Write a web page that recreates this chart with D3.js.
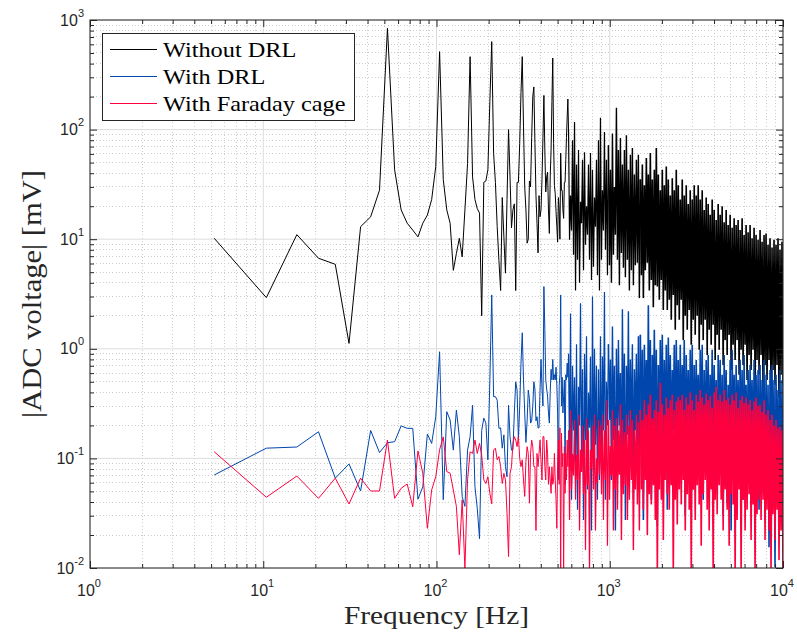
<!DOCTYPE html>
<html>
<head>
<meta charset="utf-8">
<script src="https://cdn.jsdelivr.net/npm/d3@7"></script>
<style>
  body { margin: 0; background: #ffffff; }
  svg { display: block; }
</style>
</head>
<body>
<svg id="chart" width="797" height="637"></svg>
<script>
// FFT bin spacing of the spectra (Hz)
const binWidth = 5.21;

// Amplitude of bins 1..110 (mV)
const lowBlack = [10.2, 2.93, 11, 6.7, 5.9, 1.12, 13, 16, 28, 840,
  43, 18.5, 14, 12.1, 10.5, 14, 16.6, 23, 46, 515,
  35, 18.5, 14, 5.2, 7.4, 10.2, 6.9, 18.5, 49, 463,
  37, 23, 19, 17.3, 2.0, 33, 34, 43, 180, 635,
  61, 33, 13, 6.4, 3.4, 24, 10.5, 4.9, 23, 100,
  37, 12.7, 18.5, 21, 3.4, 33, 33, 75, 218, 463,
  106, 30, 18.5, 9.2, 10, 34, 30, 85, 200, 245,
  75, 25, 14, 7.5, 25, 16, 18.5, 35, 85, 205,
  65, 27, 37, 41, 18.5, 11.3, 37, 65, 180, 450,
  75, 31, 26, 18, 13, 9.4, 24, 18.5, 10, 61,
  28, 28, 18.5, 15.5, 33, 33, 53, 85, 130, 190];

const lowBlue = [0.0706, 0.124, 0.127, 0.175, 0.066, 0.089, 0.0504, 0.18, 0.113, 0.139,
  0.142, 0.198, 0.188, 0.188, 0.0424, 0.055, 0.167, 0.137, 0.24, 0.94,
  0.042, 0.267, 0.224, 0.119, 0.276, 0.158, 0.0447, 0.0365, 0.119, 0.158,
  0.305, 0.055, 0.035, 0.0185, 0.18, 0.233, 0.21, 0.097, 0.52, 3.1,
  0.366, 0.366, 0.34, 0.188, 0.19, 0.124, 0.164, 0.084, 0.068, 0.305,
  0.158, 0.119, 0.12, 0.26, 0.50, 0.42, 0.15, 0.30, 0.74, 1.4,
  0.52, 0.26, 0.14, 0.22, 0.42, 0.35, 0.21, 0.22, 0.30, 0.50,
  0.43, 0.22, 0.24, 0.19, 0.19, 0.43, 0.8, 0.43, 0.30, 3.7,
  1.5, 0.52, 0.43, 0.37, 0.26, 0.21, 0.40, 0.65, 0.52, 0.8,
  0.52, 0.58, 0.52, 0.68, 0.46, 0.26, 0.064, 0.46, 0.58, 3.1,
  0.30, 0.55, 0.26, 0.37, 0.52, 0.058, 0.58, 0.52, 0.74, 0.55];

const lowRed = [0.115, 0.0442, 0.069, 0.0432, 0.066, 0.0384, 0.066, 0.0504, 0.0504, 0.147,
  0.0432, 0.0534, 0.0584, 0.0362, 0.117, 0.073, 0.023, 0.0515, 0.068, 0.12,
  0.157, 0.0758, 0.0733, 0.0515, 0.0365, 0.0132, 0.0418, 0.0098, 0.0636, 0.115,
  0.111, 0.147, 0.111, 0.137, 0.107, 0.0636, 0.059, 0.068, 0.048, 0.0385,
  0.119, 0.124, 0.097, 0.104, 0.084, 0.059, 0.073, 0.0636, 0.0316, 0.0127,
  0.073, 0.084, 0.137, 0.158, 0.147, 0.128, 0.158, 0.10, 0.084, 0.097,
  0.0635, 0.045, 0.094, 0.128, 0.111, 0.039, 0.111, 0.147, 0.128, 0.084,
  0.084, 0.022, 0.111, 0.084, 0.111, 0.147, 0.094, 0.0635, 0.158, 0.158,
  0.084, 0.0635, 0.147, 0.111, 0.058, 0.084, 0.0635, 0.048, 0.084, 0.058,
  0.0635, 0.111, 0.0635, 0.042, 0.023, 0.094, 0.147, 0.058, 0.19, 0.0095,
  0.17, 0.084, 0.111, 0.0095, 0.128, 0.048, 0.111, 0.0635, 0.147, 0.084];

// Above bin 110 the spectra are dense: peak / trough readings, alternating,
// at evenly log-spaced frequencies from hfStart to hfEnd (mV)
const hfStart = 111 * binWidth;
const hfEnd = 10000;

const hfBlack = [99, 9.9, 25, 12, 80, 7.2, 117, 3.4, 48, 6.5, 65, 4.0, 22, 14, 53, 5.2,
  62, 8.9, 20, 11, 48, 6.5, 61, 4.25, 43, 5.6, 24, 13, 53, 4.7, 80, 3.4,
  128, 6.5, 28, 12, 95, 8.0, 53, 4.7, 72, 5.8, 43, 4.0, 92, 7.2, 30, 11,
  158, 6.5, 65, 3.8, 84, 7.5, 48, 5.5, 65, 4.5, 89, 6.5, 43, 3.4, 59, 5.2,
  68, 3.8, 39, 5.8, 53, 6.1, 59, 2.9,
  35, 4.7, 48, 2.9, 31, 5.2, 55, 6.1, 39, 3.4, 61, 4.25, 35, 2.4, 43, 3.8,
  68, 3.7, 39, 2.8, 28, 4.25, 43, 2.26, 31, 3.4, 46, 2.26, 35, 2.8, 25, 1.84,
  36, 3.1, 28, 1.49, 43, 2.5, 31, 1.84,
  23, 2.8, 35, 1.2, 25, 2.0, 31, 1.49, 21, 2.26, 28, 1.09, 23, 1.84, 31, 1.34,
  25, 2.0, 31, 0.98, 23, 1.66, 28, 1.2, 18.5, 1.84, 24, 0.88, 21, 1.49, 16.7, 1.09,
  23, 1.66, 18.5, 0.79, 15, 1.34, 21, 0.98,
  16.7, 1.49, 20, 0.71, 14.3, 1.2, 18.5, 0.88, 13.5, 1.34, 16.7, 0.64, 12.7, 1.09,
  15.5, 0.79, 13.5, 1.2, 15, 0.58, 12.1, 0.98, 15.5, 0.71, 10.9, 1.09, 13.5, 0.52,
  11.6, 0.88, 13.5, 0.64, 10.2, 0.98, 12.7, 0.47, 10.9, 0.79, 9.9, 0.58,
  12.1, 0.88, 9.5, 0.42, 10.9, 0.71, 11.3, 0.52, 8.9, 0.79, 10.2, 0.38, 8.4, 0.64,
  9.9, 0.47, 8.9, 0.71, 10.2, 0.36, 8.0, 0.58, 9.5, 0.47];

const hfBlue = [0.9, 0.097, 2.1, 0.042, 0.7, 0.18, 0.55, 0.0635, 1.1, 0.034, 0.45, 0.2,
  2.6, 0.078, 0.65, 0.0274, 0.9, 0.147, 1.3, 0.052, 0.4, 0.19, 0.85, 0.022,
  3.0, 0.078, 1.0, 0.133, 0.7, 0.042, 0.65, 0.0635,
  1.3, 0.078, 0.85, 0.18, 3.3, 0.042, 0.5, 0.2, 1.1, 0.224, 0.8, 0.0635,
  1.6, 0.147, 0.7, 0.022, 1.0, 0.097, 1.2, 0.20, 0.6, 0.052, 2.3, 0.12,
  0.9, 0.0274, 0.7, 0.164, 2.2, 0.078, 0.8, 0.133, 1.1, 0.042, 0.65, 0.18,
  0.9, 0.088, 1.3, 0.0635,
  1.34, 0.12, 0.98, 0.0274, 1.09, 0.18, 0.79, 0.078, 2.5, 0.147, 1.2, 0.042,
  0.88, 0.20, 1.49, 0.097, 0.98, 0.024, 0.71, 0.133, 1.2, 0.164, 1.34, 0.0635,
  0.79, 0.108, 1.09, 0.034, 1.27, 0.147, 0.88, 0.088, 0.64, 0.18, 1.09, 0.052,
  1.2, 0.12, 0.79, 0.078,
  1.09, 0.097, 0.71, 0.18, 1.2, 0.030, 0.88, 0.133, 0.64, 0.078, 0.98, 0.147,
  1.09, 0.052, 0.71, 0.108, 0.79, 0.18, 0.58, 0.071, 0.98, 0.133, 1.09, 0.042,
  0.64, 0.097, 0.79, 0.164, 0.88, 0.0635, 0.58, 0.12, 0.98, 0.078, 0.71, 0.147,
  0.52, 0.047, 0.88, 0.108,
  0.79, 0.078, 0.58, 0.030, 0.88, 0.133, 0.64, 0.039, 0.47, 0.097, 0.79, 0.022,
  0.98, 0.12, 0.58, 0.0635, 0.71, 0.147, 0.52, 0.078, 0.79, 0.108, 0.64, 0.042,
  0.88, 0.133, 0.47, 0.071, 0.64, 0.097, 0.71, 0.147, 0.52, 0.052, 0.79, 0.108,
  0.58, 0.078, 0.64, 0.034,
  0.71, 0.0635, 0.52, 0.108, 0.79, 0.0274, 0.58, 0.078, 0.47, 0.0155, 0.64, 0.097,
  0.71, 0.052, 0.52, 0.0102, 0.58, 0.071, 0.42, 0.0274, 0.64, 0.042, 0.52, 0.018];

const hfRed = [0.18, 0.0274, 0.277, 0.052, 0.11, 0.07, 0.224, 0.042, 0.108, 0.0635,
  0.25, 0.022, 0.12, 0.075, 0.20, 0.047, 0.147, 0.0146, 0.233, 0.057, 0.18, 0.009,
  0.12, 0.08, 0.20, 0.052, 0.25, 0.022, 0.1, 0.06, 0.224, 0.071,
  0.20, 0.047, 0.25, 0.0274, 0.18, 0.0635, 0.34, 0.016, 0.224, 0.042, 0.13, 0.07,
  0.277, 0.022, 0.20, 0.052, 0.233, 0.034, 0.18, 0.071, 0.31, 0.018, 0.224, 0.047,
  0.173, 0.057, 0.25, 0.0274, 0.20, 0.042, 0.277, 0.0635, 0.224, 0.0146, 0.18, 0.052,
  0.25, 0.038, 0.214, 0.022,
  0.277, 0.052, 0.224, 0.034, 0.34, 0.0635, 0.25, 0.020, 0.31, 0.047, 0.38, 0.038,
  0.233, 0.057, 0.277, 0.0274, 0.34, 0.009, 0.265, 0.052, 0.49, 0.042, 0.31, 0.018,
  0.25, 0.0635, 0.36, 0.047, 0.29, 0.034, 0.34, 0.057, 0.38, 0.009, 0.277, 0.042,
  0.33, 0.025, 0.365, 0.052,
  0.34, 0.038, 0.38, 0.0635, 0.277, 0.022, 0.36, 0.047, 0.31, 0.034, 0.40, 0.009,
  0.34, 0.052, 0.277, 0.0274, 0.38, 0.057, 0.33, 0.038, 0.42, 0.016, 0.36, 0.047,
  0.31, 0.0635, 0.39, 0.034, 0.34, 0.022, 0.37, 0.052, 0.29, 0.009, 0.40, 0.042,
  0.45, 0.031, 0.34, 0.057,
  0.38, 0.042, 0.33, 0.022, 0.42, 0.052, 0.34, 0.034, 0.36, 0.016, 0.31, 0.047,
  0.38, 0.038, 0.34, 0.009, 0.40, 0.0274, 0.29, 0.052, 0.34, 0.009, 0.37, 0.042,
  0.32, 0.022, 0.36, 0.034, 0.31, 0.047, 0.34, 0.018, 0.277, 0.038, 0.33, 0.009,
  0.36, 0.031, 0.30, 0.042,
  0.31, 0.0274, 0.265, 0.042, 0.34, 0.018, 0.25, 0.034, 0.277, 0.022, 0.224, 0.009,
  0.25, 0.031, 0.20, 0.018, 0.224, 0.034, 0.189, 0.0118, 0.20, 0.022, 0.18, 0.009];

const seriesNames = ["Without DRL", "With DRL", "With Faraday cage"];
const seriesColors = ["#000000", "#0046ad", "#ff003f"];
const xTickExps = [0, 1, 2, 3, 4];
const yTickExps = [-2, -1, 0, 1, 2, 3];
const xTitle = "Frequency [Hz]";
const yTitle = "|ADC voltage| [mV]";

// Point lists: resolved bins, then the dense readings split where the
// bin density rises (pen width grows with the number of bins per pixel)
const densitySplits = [40, 72];
const densityPens = [1.2, 1.4, 1.6];
function buildSeries(low, hf) {
  const n = hf.length;
  const hfPts = hf.map((v, i) => ({ f: hfStart * Math.pow(hfEnd / hfStart, i / (n - 1)), v }));
  const lowPts = low.map((v, i) => ({ f: (i + 1) * binWidth, v })).concat([hfPts[0]]);
  const bounds = [0, ...densitySplits, n - 1];
  const parts = [];
  for (let j = 0; j < bounds.length - 1; j++) parts.push(hfPts.slice(bounds[j], bounds[j + 1] + 1));
  return { low: lowPts, parts };
}
const series = [
  buildSeries(lowBlack, hfBlack),
  buildSeries(lowBlue, hfBlue),
  buildSeries(lowRed, hfRed)
];

const plot = { left: 90, right: 783, top: 20, bottom: 568 };
const x = d3.scaleLog().domain([1, 1e4]).range([plot.left, plot.right]);
const y = d3.scaleLog().domain([1e-2, 1e3]).range([plot.bottom, plot.top]);
const axisColor = "#262626";
const serif = "'Liberation Serif', 'Times New Roman', serif";
const sans = "'Liberation Sans', Arial, Helvetica, sans-serif";
const serifStretch = 1.13;

const svg = d3.select("#chart");
svg.append("rect").attr("width", 797).attr("height", 637).attr("fill", "#ffffff");

// ---- grid ----
const minorX = [], minorY = [];
for (let e = 0; e < 4; e++) for (let m = 2; m <= 9; m++) minorX.push(m * Math.pow(10, e));
for (let e = -2; e < 3; e++) for (let m = 2; m <= 9; m++) minorY.push(m * Math.pow(10, e));
const majorX = xTickExps.map(e => Math.pow(10, e));
const majorY = yTickExps.map(e => Math.pow(10, e));

const grid = svg.append("g");
grid.selectAll(".gxm").data(minorX).join("line")
  .attr("x1", d => x(d)).attr("x2", d => x(d))
  .attr("y1", plot.top).attr("y2", plot.bottom)
  .attr("stroke", "#cdcdcd").attr("stroke-width", 1).attr("stroke-dasharray", "1 2.2")
  .attr("shape-rendering", "crispEdges");
grid.selectAll(".gym").data(minorY).join("line")
  .attr("y1", d => y(d)).attr("y2", d => y(d))
  .attr("x1", plot.left).attr("x2", plot.right)
  .attr("stroke", "#cdcdcd").attr("stroke-width", 1).attr("stroke-dasharray", "1 2.2")
  .attr("shape-rendering", "crispEdges");
grid.selectAll(".gxM").data(majorX).join("line")
  .attr("x1", d => x(d)).attr("x2", d => x(d))
  .attr("y1", plot.top).attr("y2", plot.bottom)
  .attr("stroke", "#dcdcdc").attr("stroke-width", 1);
grid.selectAll(".gyM").data(majorY).join("line")
  .attr("y1", d => y(d)).attr("y2", d => y(d))
  .attr("x1", plot.left).attr("x2", plot.right)
  .attr("stroke", "#dcdcdc").attr("stroke-width", 1);

// ---- data lines ----
svg.append("clipPath").attr("id", "plotClip")
  .append("rect").attr("x", plot.left).attr("y", plot.top)
  .attr("width", plot.right - plot.left).attr("height", plot.bottom - plot.top);

const line = d3.line().x(d => x(d.f)).y(d => y(d.v));
const lines = svg.append("g").attr("clip-path", "url(#plotClip)");
series.forEach((s, i) => {
  const g = lines.append("g").attr("fill", "none").attr("stroke", seriesColors[i]);
  g.append("path").datum(s.low).attr("d", line).attr("stroke-width", 1);
  s.parts.forEach((p, j) => {
    g.append("path").datum(p).attr("d", line).attr("stroke-width", densityPens[j]);
  });
});

// ---- axes: box with inward ticks on all four sides ----
function styleAxis(g) {
  g.select(".domain").remove();
  g.selectAll(".tick line").attr("stroke", axisColor).attr("stroke-width", 1);
  g.selectAll(".tick text").remove();
}
const axes = svg.append("g");
const tickSets = [
  { vals: majorX, len: 7, mk: d3.axisBottom, sc: x, tr: `translate(0,${plot.bottom})` },
  { vals: minorX, len: 4, mk: d3.axisBottom, sc: x, tr: `translate(0,${plot.bottom})` },
  { vals: majorX, len: 7, mk: d3.axisTop, sc: x, tr: `translate(0,${plot.top})` },
  { vals: minorX, len: 4, mk: d3.axisTop, sc: x, tr: `translate(0,${plot.top})` },
  { vals: majorY, len: 7, mk: d3.axisLeft, sc: y, tr: `translate(${plot.left},0)` },
  { vals: minorY, len: 4, mk: d3.axisLeft, sc: y, tr: `translate(${plot.left},0)` },
  { vals: majorY, len: 7, mk: d3.axisRight, sc: y, tr: `translate(${plot.right},0)` },
  { vals: minorY, len: 4, mk: d3.axisRight, sc: y, tr: `translate(${plot.right},0)` }
];
tickSets.forEach(t => {
  axes.append("g").attr("transform", t.tr)
    .call(t.mk(t.sc).tickValues(t.vals).tickSize(-t.len).tickFormat(""))
    .call(styleAxis);
});
axes.append("rect")
  .attr("x", plot.left).attr("y", plot.top)
  .attr("width", plot.right - plot.left).attr("height", plot.bottom - plot.top)
  .attr("fill", "none").attr("stroke", axisColor).attr("stroke-width", 1);

// ---- tick labels (powers of ten) ----
const labels = svg.append("g").attr("fill", axisColor).attr("font-family", sans);
xTickExps.forEach(e => {
  const t = labels.append("text")
    .attr("x", x(Math.pow(10, e)) - 1).attr("y", 596)
    .attr("text-anchor", "middle").attr("font-size", 16);
  t.append("tspan").text("10");
  t.append("tspan").attr("dy", -9).attr("font-size", 11).text(e);
});
yTickExps.forEach(e => {
  const t = labels.append("text")
    .attr("x", 84).attr("y", y(Math.pow(10, e)) + 5.5)
    .attr("text-anchor", "end").attr("font-size", 16);
  t.append("tspan").text("10");
  t.append("tspan").attr("dy", -9).attr("font-size", 11).text(e);
});

function stretch(sel) {
  sel.each(function () {
    const w = this.getComputedTextLength();
    d3.select(this).attr("textLength", w * serifStretch).attr("lengthAdjust", "spacingAndGlyphs");
  });
}

// ---- axis titles ----
svg.append("text")
  .attr("x", (plot.left + plot.right) / 2).attr("y", 624)
  .attr("text-anchor", "middle")
  .attr("font-family", serif).attr("font-size", 26).attr("fill", axisColor)
  .text(xTitle).call(stretch);
svg.append("text")
  .attr("transform", `translate(41,${(plot.top + plot.bottom) / 2}) rotate(-90)`)
  .attr("text-anchor", "middle")
  .attr("font-family", serif).attr("font-size", 27).attr("fill", axisColor)
  .text(yTitle).call(stretch);

// ---- legend ----
const legend = svg.append("g");
legend.append("rect")
  .attr("x", 102.5).attr("y", 33.5).attr("width", 252).attr("height", 87)
  .attr("fill", "#ffffff").attr("stroke", axisColor).attr("stroke-width", 1);
seriesNames.forEach((name, i) => {
  const cy = 49.5 + i * 27;
  legend.append("line")
    .attr("x1", 110).attr("x2", 157).attr("y1", cy).attr("y2", cy)
    .attr("stroke", seriesColors[i]).attr("stroke-width", 1);
  legend.append("text")
    .attr("x", 163).attr("y", cy + 7)
    .attr("font-family", serif).attr("font-size", 21.5).attr("fill", "#000000")
    .text(name).call(stretch);
});
</script>
</body>
</html>
